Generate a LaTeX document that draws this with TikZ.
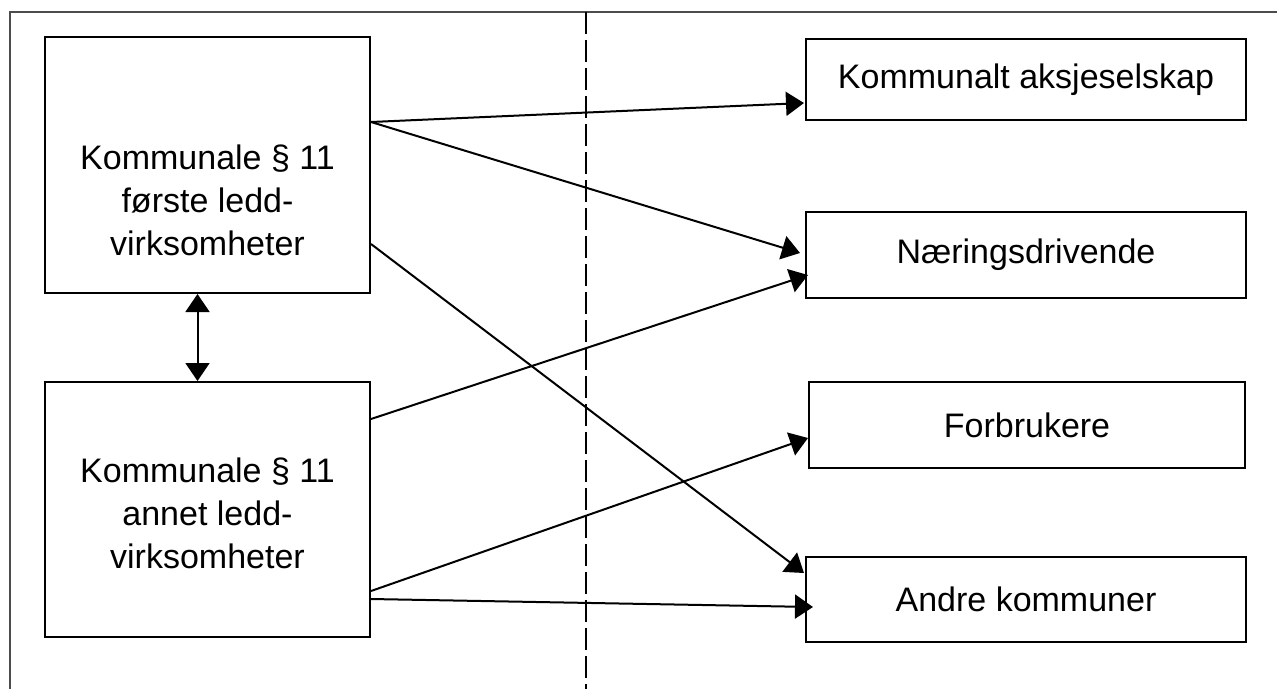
\documentclass[tikz,border=0pt]{standalone}
\usepackage{fontspec}
\setmainfont{Liberation Sans}
\usetikzlibrary{arrows.meta}
\begin{document}
\begin{tikzpicture}[x=1pt,y=-1pt,
  box/.style={draw,line width=2pt,inner sep=0pt,font=\fontsize{34}{43}\selectfont,align=center},
  lbl/.style={font=\fontsize{34}{43}\selectfont,align=center,inner sep=0pt},
  tip/.style={},
  arr/.style={line width=2pt,-{Triangle[length=18pt,width=24pt]}},
  dbl/.style={line width=2pt,{Triangle[length=18pt,width=24pt]}-{Triangle[length=18pt,width=24pt]}},
]
\useasboundingbox (0,0) rectangle (1277,689);
% frame (top and left edges)
\draw[line width=2pt,black!70] (10,689) -- (10,12) -- (1277,12);
% dashed divider
\draw[line width=2pt,dash pattern=on 22pt off 6pt] (586,12) -- (586,689);
% left boxes
\node[box,minimum width=325pt,minimum height=256pt] (A) at (207.5,165) {};
\node[lbl] (ta) at (207.5,200) {Kommunale § 11\\første ledd-\\virksomheter};
\node[box,minimum width=325pt,minimum height=255pt] (B) at (207.5,509.5) {};
\node[lbl] (tb) at (207.5,513) {Kommunale § 11\\annet ledd-\\virksomheter};
% right boxes
\node[box,minimum width=440pt,minimum height=81pt] (K) at (1026,79.5) {Kommunalt aksjeselskap};
\node[box,minimum width=440pt,minimum height=86pt] (N) at (1026,255) {Næringsdrivende};
\node[box,minimum width=436pt,minimum height=86pt] (F) at (1027,425) {Forbrukere};
\node[box,minimum width=440pt,minimum height=85pt] (R) at (1026,599.5) {Andre kommuner};
% connectors
\draw[dbl] ([xshift=-10pt]A.south) -- ([xshift=-10pt]B.north);
\draw[arr] ([yshift=-86pt]A.north east) -- ([xshift=-1pt,yshift=-23.5pt]K.west);
\draw[arr] ([yshift=-86pt]A.north east) -- ([xshift=-5pt,yshift=2pt]N.west);
\draw[arr] ([yshift=-208pt]A.north east) -- ([xshift=-1pt,yshift=26.5pt]R.west);
\draw[arr] ([yshift=-38pt]B.north east) -- ([xshift=3pt,yshift=-20pt]N.west);
\draw[arr] ([yshift=-210pt]B.north east) -- ([yshift=-13pt]F.west);
\draw[arr] ([yshift=-218pt]B.north east) -- ([xshift=8pt,yshift=-7.5pt]R.west);
\end{tikzpicture}
\end{document}
